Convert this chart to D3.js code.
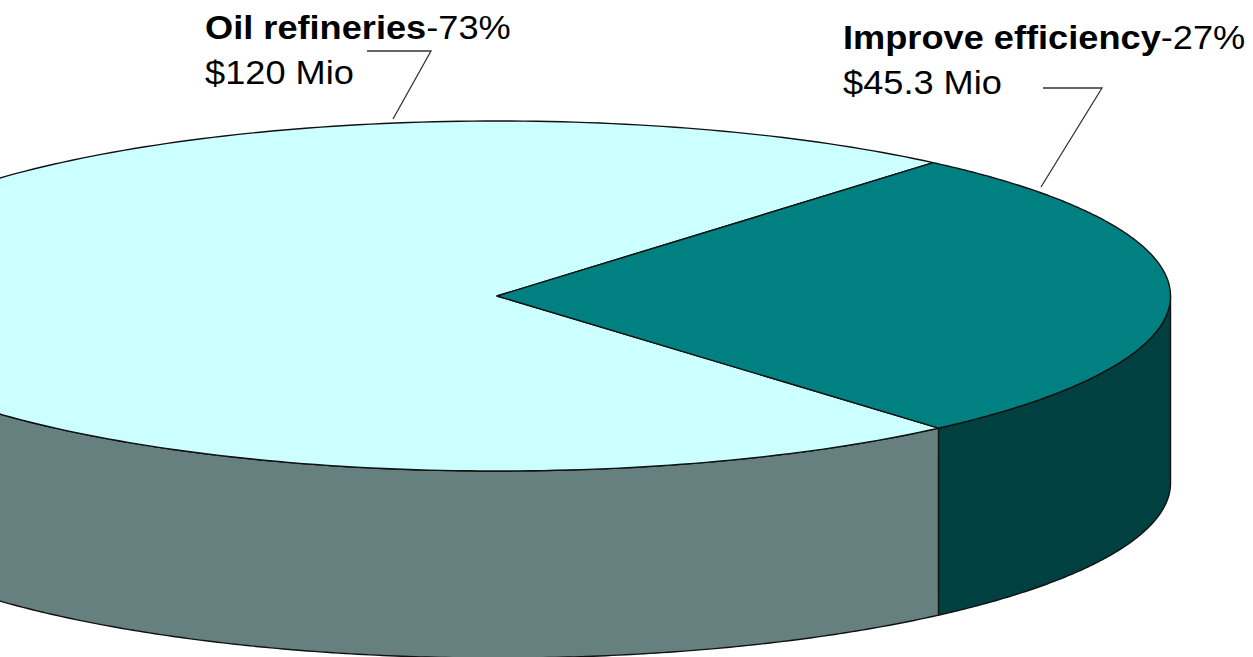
<!DOCTYPE html>
<html><head><meta charset="utf-8">
<script src="https://cdn.jsdelivr.net/npm/d3@7"></script>
<style>html,body{margin:0;padding:0;background:#fff;overflow:hidden}svg{display:block}text{font-family:"Liberation Sans",Arial,sans-serif;fill:#000}</style>
</head><body><div id="c"></div>
<script>
const categories = ["Improve efficiency", "Oil refineries"];
const amounts = [45.3, 120];
const percentLabels = ["27%", "73%"];
const amountLabels = ["$45.3 Mio", "$120 Mio"];
const topColors = ["#008080", "#CCFFFF"];
const sideColors = ["#004040", "#667F7F"];

const W = 1253, H = 657;
const svg = d3.select("#c").append("svg").attr("width", W).attr("height", H);
const cx = 497, cy = 296, rx = 673.5, ry = 175, depth = 187;
const x = d3.scaleLinear().domain([-1, 1]).range([cx - rx, cx + rx]);
const y = d3.scaleLinear().domain([-1, 1]).range([cy - ry, cy + ry]);

// angle 0 points right, growing clockwise on screen
const span = 2 * Math.PI * amounts[0] / d3.sum(amounts);
const tilt = -0.3 * Math.PI / 180;
const arcs = d3.pie().sort(null).startAngle(tilt - span / 2).endAngle(tilt + 2 * Math.PI - span / 2)(amounts);

const px = a => x(Math.cos(a)), py = a => y(Math.sin(a));
const line = d3.line();
const samples = (a0, a1) => d3.range(0, 241).map(i => a0 + (a1 - a0) * i / 240);

function wall(a0, a1) {
  const s = samples(a0, a1);
  return line([...s.map(a => [px(a), py(a)]), ...s.reverse().map(a => [px(a), py(a) + depth])]) + "Z";
}
function wedge(a0, a1) {
  return line([[x(0), y(0)], ...samples(a0, a1).map(a => [px(a), py(a)])]) + "Z";
}

const stroke = {stroke: "#111", "stroke-width": 1.4, "stroke-linejoin": "round"};
function draw(d, fill) {
  const p = svg.append("path").attr("d", d).attr("fill", fill);
  Object.entries(stroke).forEach(([k, v]) => p.attr(k, v));
}
const a0 = arcs[0], a1 = arcs[1];
draw(wall(a1.startAngle, Math.PI), sideColors[1]);
draw(wall(0, a0.endAngle), sideColors[0]);
draw(wedge(a1.startAngle, a1.endAngle), topColors[1]);
draw(wedge(a0.startAngle, a0.endAngle), topColors[0]);

// Leader lines
const leaders = [
  [[1043, 88], [1102, 88], [1041, 187]],
  [[367, 51], [431, 51], [393, 119]]
];
leaders.forEach(l => svg.append("path").attr("d", line(l)).attr("fill", "none").attr("stroke", "#333").attr("stroke-width", 1.3));

// Labels: the reference's type is slightly wider than it is tall
const fs = 33, stretch = 1.097;
const labelPos = [[843, 49, 94], [205, 39, 84]];
categories.forEach((c, i) => {
  const [lx, y1, y2] = labelPos[i];
  const t = svg.append("text").attr("transform", `translate(${lx},${y1}) scale(${stretch},1)`).attr("font-size", fs);
  t.append("tspan").attr("font-weight", "bold").text(c);
  t.append("tspan").text("-" + percentLabels[i]);
  svg.append("text").attr("transform", `translate(${lx},${y2}) scale(${stretch},1)`).attr("font-size", fs).text(amountLabels[i]);
});
</script></body></html>
